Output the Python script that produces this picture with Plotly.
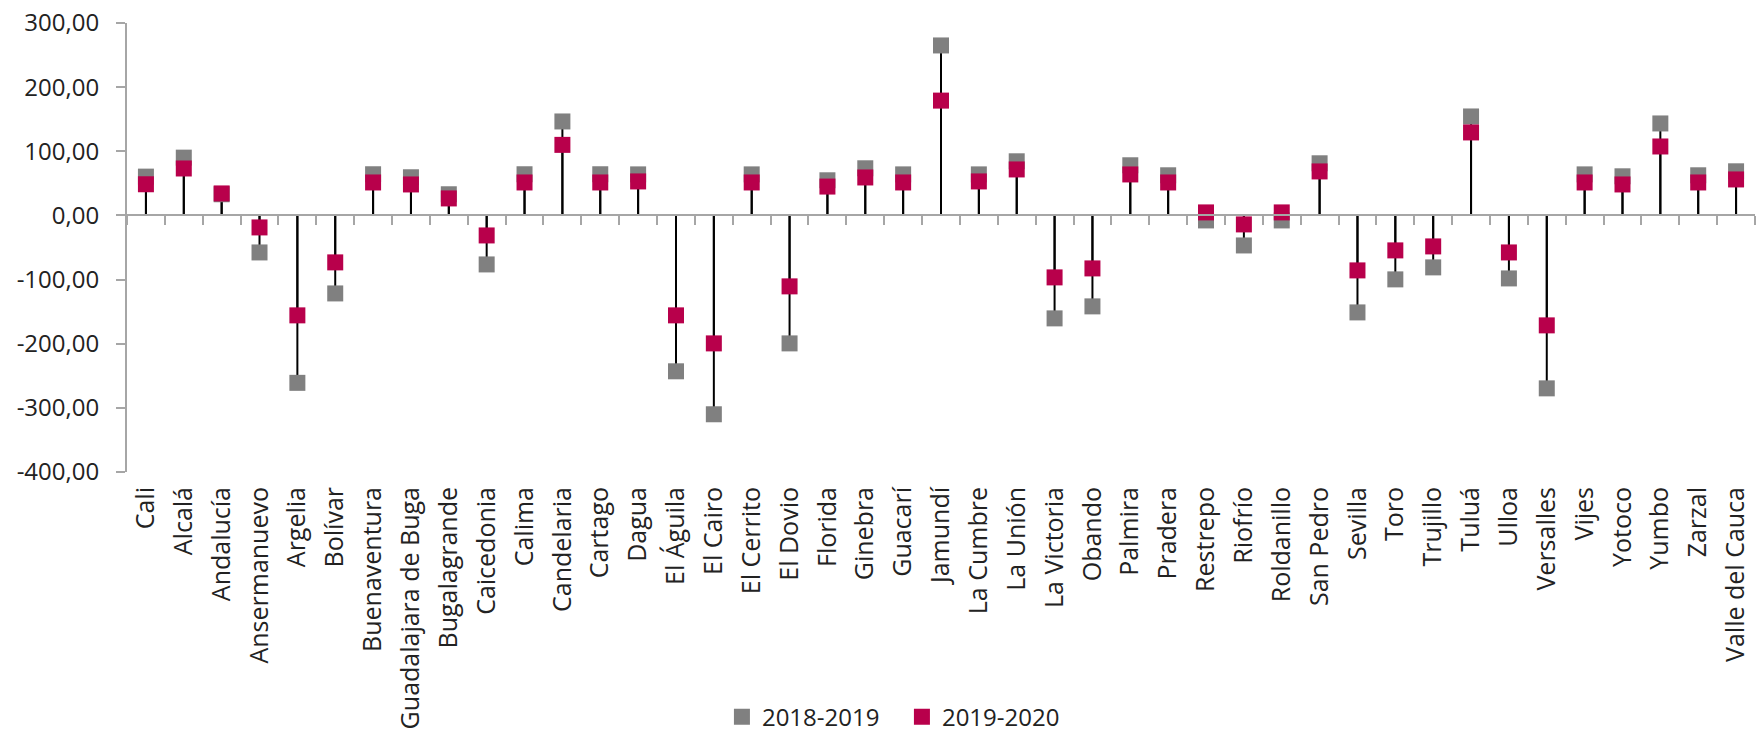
import plotly.graph_objects as go

municipios = ["Cali", "Alcalá", "Andalucía", "Ansermanuevo", "Argelia", "Bolívar",
              "Buenaventura", "Guadalajara de Buga", "Bugalagrande", "Caicedonia",
              "Calima", "Candelaria", "Cartago", "Dagua", "El Águila", "El Cairo",
              "El Cerrito", "El Dovio", "Florida", "Ginebra", "Guacarí", "Jamundí",
              "La Cumbre", "La Unión", "La Victoria", "Obando", "Palmira", "Pradera",
              "Restrepo", "Riofrío", "Roldanillo", "San Pedro", "Sevilla", "Toro",
              "Trujillo", "Tuluá", "Ulloa", "Versalles", "Vijes", "Yotoco", "Yumbo",
              "Zarzal", "Valle del Cauca"]

v_2018_2019 = [60.5, 90.1, 33.0, -57.7, -261.0, -121.6, 64.2, 59.5, 33.0, -76.4,
               64.2, 146.5, 64.2, 64.0, -243.0, -310.0, 64.0, -199.5, 54.8, 73.5,
               64.0, 265.0, 64.0, 84.4, -160.5, -141.8, 78.2, 62.6, -7.8, -46.8,
               -7.8, 81.3, -151.2, -99.7, -81.0, 154.3, -98.2, -269.6, 64.0, 61.0,
               143.4, 62.6, 68.8]

v_2019_2020 = [48.6, 73.2, 34.3, -18.7, -155.8, -73.2, 51.4, 48.3, 26.5, -31.2,
               51.4, 110.0, 51.4, 53.0, -155.8, -199.5, 51.4, -110.6, 45.0, 59.2,
               51.4, 179.0, 53.0, 71.7, -96.6, -82.6, 63.9, 51.4, 4.7, -14.0,
               4.7, 68.6, -85.7, -54.5, -48.3, 129.4, -57.7, -171.4, 51.4, 48.3,
               107.5, 51.4, 56.1]

y_ticks = [-400, -300, -200, -100, 0, 100, 200, 300]
y_tick_labels = [f"{v:.2f}".replace(".", ",") for v in y_ticks]

FONT = "Open Sans"
GRAY = "#808080"
CRIMSON = "#B8004B"
AXIS = "#A6A6A6"
n = len(municipios)

# drop lines from the axis to each point
line_x, line_y = [], []
for m, a, b in zip(municipios, v_2018_2019, v_2019_2020):
    for v in (a, b):
        line_x += [m, m, None]
        line_y += [0, v, None]

fig = go.Figure()
fig.add_trace(go.Scatter(x=line_x, y=line_y, mode="lines",
                         line=dict(color="black", width=2), showlegend=False,
                         hoverinfo="skip"))
fig.add_trace(go.Scatter(x=municipios, y=v_2018_2019, mode="markers", name="2018-2019",
                         marker=dict(symbol="square", size=16, color=GRAY)))
fig.add_trace(go.Scatter(x=municipios, y=v_2019_2020, mode="markers", name="2019-2020",
                         marker=dict(symbol="square", size=16, color=CRIMSON)))
# invisible trace that carries the bottom category labels
fig.add_trace(go.Scatter(x=municipios, y=v_2019_2020, mode="markers", xaxis="x2",
                         marker=dict(opacity=0), showlegend=False, hoverinfo="skip"))

fig.update_layout(
    width=1756, height=734,
    margin=dict(l=127, r=1, t=23, b=262, autoexpand=False),
    plot_bgcolor="white", paper_bgcolor="white",
    font=dict(family=FONT, size=24, color="#222222"),
    legend=dict(orientation="h", x=0.476, xanchor="center", y=-0.546, yanchor="middle",
                font=dict(size=24), entrywidth=135, tracegroupgap=0),
    # axis line crossing at zero with tick marks between categories
    xaxis=dict(type="category", categoryorder="array", categoryarray=municipios,
               range=[-0.5, n - 0.5], anchor="free", position=4 / 7,
               showline=True, linecolor=AXIS, linewidth=2, automargin=False,
               ticks="outside", tickson="boundaries", ticklen=9, tickwidth=2,
               tickcolor=AXIS, showticklabels=False, showgrid=False, zeroline=False),
    # category labels at the bottom
    xaxis2=dict(type="category", categoryorder="array", categoryarray=municipios,
                range=[-0.5, n - 0.5], overlaying="x", anchor="y", side="bottom",
                tickangle=-90, showline=False, ticks="", showgrid=False,
                ticklabelstandoff=9, zeroline=False, automargin=False,
                tickfont=dict(size=25)),
    yaxis=dict(range=[-400, 300], tickvals=y_ticks, ticktext=y_tick_labels,
               showline=True, linecolor=AXIS, linewidth=2, ticks="outside",
               ticklen=9, tickwidth=2, tickcolor=AXIS, showgrid=False,
               ticklabelstandoff=12, zeroline=False, automargin=False,
               ticklabeloverflow="allow", tickfont=dict(size=24)),
)

# drop the default 8px page margin so the figure fills the window exactly
fig.write_html("out.html", config={"displayModeBar": False},
               post_script="document.body.style.margin = '0';")
